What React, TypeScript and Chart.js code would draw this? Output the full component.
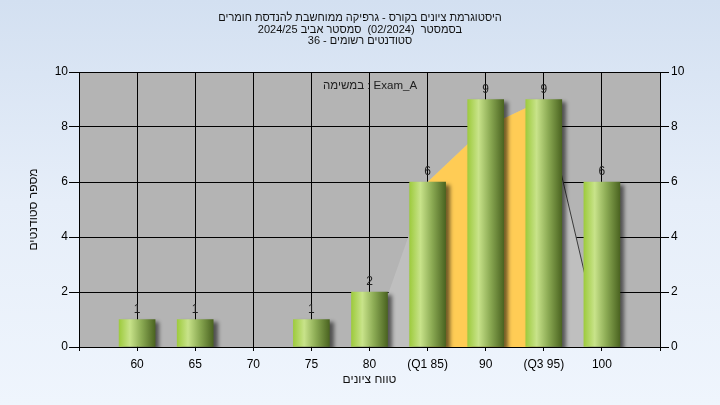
import React, { useEffect, useRef } from "react";
import { Chart, registerables } from "chart.js";

Chart.register(...registerables);

// ---- data ----
const categories = ["", "60", "65", "70", "75", "80", "(Q1 85)", "90", "(Q3 95)", "100", ""];
const studentCounts = [null, 1, 1, 0, 1, 2, 6, 9, 9, 6, null];
const outerCurve = [null, null, null, null, null, 0, 6, 8, 9, 0, null];
const quartileCurve = [null, null, null, null, null, null, 6, 8, 9, null, null];
const yMin = 0;
const yMax = 10;
const yStep = 2;

const titleLines = [
  "היסטוגרמת ציונים בקורס - גרפיקה ממוחשבת להנדסת חומרים",
  "בסמסטר  (02/2024)  סמסטר אביב 2024/25",
  "סטודנטים רשומים - 36",
];
const xTitle = "טווח ציונים";
const yTitle = "מספר סטודנטים";
const taskNote = "במשימה : Exam_A";

const FONT = "'Liberation Sans', Arial, sans-serif";

export default function App() {
  const ref = useRef<HTMLCanvasElement | null>(null);

  useEffect(() => {
    if (!ref.current) return;

    const plotBg = {
      id: "plotBg",
      beforeDraw(chart: any) {
        const { ctx, chartArea: a } = chart;
        if (!a) return;
        ctx.save();
        ctx.fillStyle = "#B4B4B4";
        ctx.fillRect(a.left, a.top, a.right - a.left, a.bottom - a.top);
        ctx.restore();
      },
    };

    const barShadow = {
      id: "barShadow",
      beforeDatasetDraw(chart: any, args: any) {
        if (args.meta.type !== "bar") return;
        const c = chart.ctx;
        c.save();
        c.shadowColor = "rgba(0,0,0,0.55)";
        c.shadowBlur = 4;
        c.shadowOffsetX = 4;
        c.shadowOffsetY = 3;
      },
      afterDatasetDraw(chart: any, args: any) {
        if (args.meta.type !== "bar") return;
        chart.ctx.restore();
      },
    };

    const valueLabels = {
      id: "valueLabels",
      afterDatasetsDraw(chart: any) {
        const c = chart.ctx;
        c.save();
        c.font = `12px ${FONT}`;
        c.fillStyle = "#1e1e1e";
        c.textAlign = "center";
        c.textBaseline = "alphabetic";
        chart.data.datasets.forEach((ds: any, di: number) => {
          if (ds.type !== "bar") return;
          const meta = chart.getDatasetMeta(di);
          meta.data.forEach((el: any, i: number) => {
            const v = ds.data[i];
            if (v == null || v <= 0) return;
            c.fillText(String(v), el.x, el.y - 7);
          });
        });
        const area = chart.chartArea;
        c.font = `11.5px ${FONT}`;
        c.textAlign = "left";
        c.textBaseline = "middle";
        c.fillStyle = "#202020";
        c.fillText(taskNote, area.left + 244, area.top + 14);
        c.restore();
      },
    };

    const chart = new Chart(ref.current, {
      data: {
        labels: categories,
        datasets: [
          {
            type: "bar",
            data: studentCounts,
            order: 0,
            barThickness: 36,
            borderWidth: 0,
            backgroundColor: (ctx: any) => {
              const ch = ctx.chart;
              const v = ctx.raw;
              if (!v) return "rgba(0,0,0,0)";
              const sx = ch.scales && ch.scales.x;
              if (!sx || !ch.chartArea) return "#8FB04A";
              const x = sx.getPixelForValue(ctx.dataIndex);
              const g = ch.ctx.createLinearGradient(x - 18, 0, x + 18, 0);
              g.addColorStop(0, "#9ECB3E");
              g.addColorStop(0.3, "#C8E38A");
              g.addColorStop(0.62, "#8CAB54");
              g.addColorStop(1, "#4B6421");
              return g;
            },
          },
          {
            type: "line",
            data: quartileCurve,
            order: 1,
            fill: "origin",
            backgroundColor: "#FFCC55",
            borderColor: "rgba(0,0,0,0)",
            borderWidth: 0,
            pointRadius: 0,
            tension: 0,
          },
          {
            type: "line",
            data: outerCurve,
            order: 2,
            fill: "origin",
            backgroundColor: "#BFBFBF",
            borderColor: "rgba(0,0,0,0)",
            borderWidth: 1,
            pointRadius: 0,
            tension: 0,
            segment: {
              borderColor: (c: any) =>
                c.p1.parsed.y === 0 && c.p0.parsed.y > 0 ? "#3a3a3a" : "rgba(0,0,0,0)",
            },
          },
        ],
      },
      options: {
        animation: false,
        responsive: false,
        devicePixelRatio: 1,
        events: [],
        layout: { padding: 0 },
        plugins: {
          legend: { display: false },
          tooltip: { enabled: false },
          title: {
            display: true,
            text: titleLines,
            color: "#111",
            font: { family: FONT, size: 11, weight: "normal", lineHeight: "11.3px" },
            padding: { top: 12.6, bottom: 25.5 },
          },
        },
        scales: {
          x: {
            type: "category",
            offset: false,
            grid: { offset: false, color: "#000", lineWidth: 1, tickLength: 4, tickColor: "#000" },
            border: { color: "#000" },
            ticks: {
              color: "#000",
              font: { family: FONT, size: 12 },
              autoSkip: false,
              maxRotation: 0,
              padding: 6,
            },
            title: {
              display: true,
              text: xTitle,
              color: "#111",
              font: { family: FONT, size: 12 },
              padding: { top: 0, bottom: 17.8 },
            },
            afterFit: (s: any) => {
              s.height = 58;
            },
          },
          y: {
            position: "left",
            min: yMin,
            max: yMax,
            grid: { color: "#000", lineWidth: 1, tickLength: 10, tickColor: "#000" },
            border: { color: "#000" },
            ticks: {
              stepSize: yStep,
              color: "#000",
              font: { family: FONT, size: 12 },
              padding: 1,
            },
            title: {
              display: true,
              text: yTitle,
              color: "#111",
              font: { family: FONT, size: 12 },
              padding: { top: 26, bottom: 0 },
            },
            afterFit: (s: any) => {
              s.width = 79;
            },
          },
          y2: {
            position: "right",
            min: yMin,
            max: yMax,
            grid: { drawOnChartArea: false, color: "#000", tickLength: 9, tickColor: "#000" },
            border: { color: "#000" },
            ticks: {
              stepSize: yStep,
              color: "#000",
              font: { family: FONT, size: 12 },
              padding: 2,
            },
            afterFit: (s: any) => {
              s.width = 60;
            },
          },
        },
      },
      plugins: [plotBg, barShadow, valueLabels],
    } as any);

    return () => chart.destroy();
  }, []);

  return (
    <div
      style={{
        position: "fixed",
        left: 0,
        top: 0,
        width: 720,
        height: 405,
        background: "linear-gradient(180deg, #D3E0F1 0%, #E6EEF9 50%, #EFF5FD 100%)",
      }}
    >
      <canvas ref={ref} width={720} height={405} style={{ display: "block" }} />
    </div>
  );
}
